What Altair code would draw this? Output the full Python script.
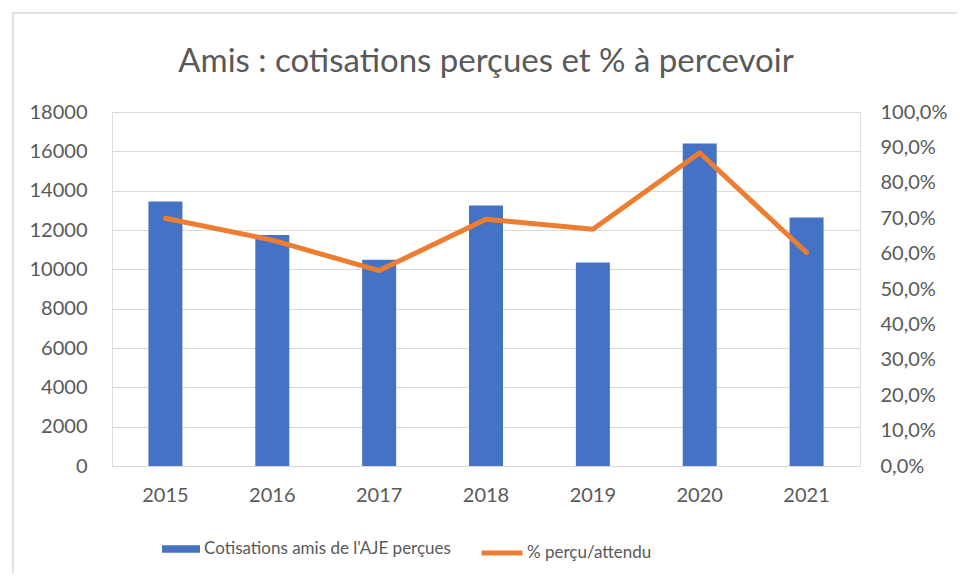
import altair as alt
import pandas as pd

years = ["2015", "2016", "2017", "2018", "2019", "2020", "2021"]
cotisations = [13450, 11750, 10490, 13250, 10350, 16400, 12630]
pct = [0.700, 0.638, 0.552, 0.697, 0.669, 0.885, 0.603]

title_text = "Amis : cotisations perçues et % à percevoir"
bar_name = "Cotisations amis de l'AJE perçues"
line_name = "% perçu/attendu"

df = pd.DataFrame({"year": years, "cot": cotisations, "pct": pct,
                   "s1": bar_name, "s2": line_name})

FONT = "Lato"
GREY = "#595959"

xenc = alt.X("year:N", title=None,
             scale=alt.Scale(paddingInner=0.682, paddingOuter=0.341),
             axis=alt.Axis(labelAngle=0, labelFontSize=20, labelColor=GREY, labelFont=FONT,
                           labelPadding=19, ticks=False, domain=False, grid=False))

bars = alt.Chart(df).mark_bar(color="#4472C4").encode(
    x=xenc,
    y=alt.Y("cot:Q", title=None,
            scale=alt.Scale(domain=[0, 18000], nice=False),
            axis=alt.Axis(values=list(range(0, 18001, 2000)), labelFontSize=20, labelColor=GREY,
                          labelFont=FONT, labelPadding=25, ticks=False, domain=False,
                          grid=True, gridColor="#d9d9d9", gridWidth=1.2, format="d")),
    color=alt.Color("s1:N", title=None,
                    scale=alt.Scale(domain=[bar_name], range=["#4472C4"]),
                    legend=alt.Legend(orient="none", legendX=50, legendY=418,
                                      symbolType="M-1,-0.2H1V0.2H-1Z", symbolSize=1444,
                                      symbolStrokeWidth=0, labelFontSize=17, labelColor=GREY,
                                      labelFont=FONT, labelOffset=4, labelLimit=400)),
)

line = alt.Chart(df).mark_line(color="#ED7D31", strokeWidth=5, strokeCap="round",
                               strokeJoin="round").encode(
    x=alt.X("year:N", bandPosition=0.5),
    y=alt.Y("pct:Q", title=None,
            scale=alt.Scale(domain=[0, 1], nice=False),
            axis=alt.Axis(orient="right", values=[i / 10 for i in range(11)],
                          labelExpr="replace(format(datum.value, '.1%'), '.', ',')",
                          labelFontSize=20, labelColor=GREY, labelFont=FONT, labelPadding=20,
                          ticks=False, domain=False, grid=False)),
    stroke=alt.Stroke("s2:N", title=None,
                      scale=alt.Scale(domain=[line_name], range=["#ED7D31"]),
                      legend=alt.Legend(orient="none", legendX=367, legendY=418,
                                        symbolType="stroke", symbolSize=1681,
                                        symbolStrokeWidth=5, labelFontSize=17, labelColor=GREY,
                                        labelFont=FONT, labelOffset=2, labelLimit=400)),
)

base_one = alt.Chart(pd.DataFrame({"t": [title_text]}))

border = base_one.mark_rect(
    fill=None, stroke="#d9d9d9", strokeWidth=1.5, clip=False
).encode(x=alt.value(-99), x2=alt.value(860), y=alt.value(-99), y2=alt.value(470))

title = base_one.mark_text(fontSize=33, font=FONT, color=GREY, align="center",
                           baseline="middle").encode(
    text="t:N", x=alt.value(374), y=alt.value(-50))

chart = alt.layer(border, title, bars, line).resolve_scale(
    y="independent", color="independent", stroke="independent"
).properties(
    width=748, height=354,
    autosize=alt.AutoSizeParams(type="none"),
    padding={"left": 104, "top": 104, "right": 97, "bottom": 107},
).configure_view(stroke=None).configure(background="white")

chart.save("out.html", embed_options={"renderer": "svg", "actions": False})
